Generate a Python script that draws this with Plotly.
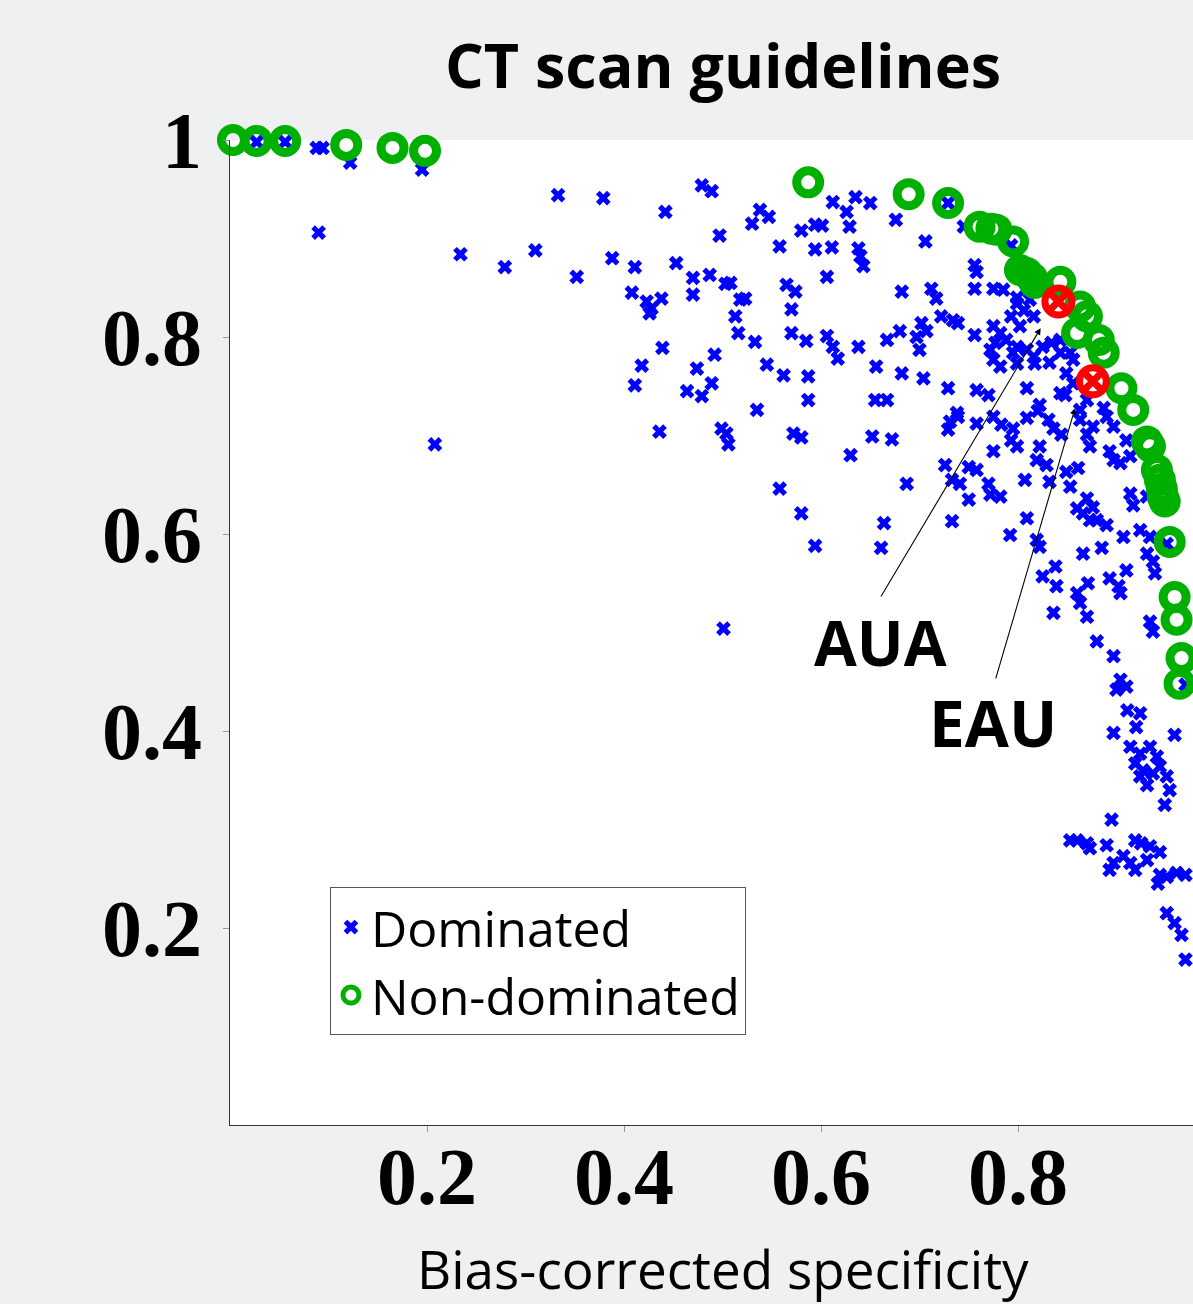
import plotly.graph_objects as go

# Dominated configurations: (bias-corrected specificity, bias-corrected sensitivity)
dom_spec = [
    0.027, 0.056, 0.088, 0.094, 0.122, 0.195, 0.090, 0.234, 0.279, 0.310, 0.352, 0.333, 0.379, 0.208,
    0.479, 0.489, 0.442, 0.497, 0.538, 0.547, 0.530, 0.558, 0.612, 0.635, 0.650, 0.626, 0.629, 0.580,
    0.594, 0.601, 0.594, 0.611, 0.638, 0.640, 0.643, 0.606, 0.388, 0.411, 0.453, 0.408, 0.423, 0.428,
    0.438, 0.426, 0.470, 0.470, 0.487, 0.503, 0.508, 0.518, 0.523, 0.513, 0.516, 0.533, 0.565, 0.574,
    0.570, 0.570, 0.585, 0.606, 0.612, 0.617, 0.638, 0.656, 0.439, 0.418, 0.411, 0.474, 0.492, 0.489,
    0.464, 0.479, 0.545, 0.562, 0.587, 0.587, 0.535, 0.655,
    0.436, 0.499, 0.504, 0.506, 0.572, 0.580, 0.630, 0.652, 0.672, 0.558, 0.580, 0.594, 0.664, 0.661, 0.501,
    0.676, 0.706, 0.729, 0.745, 0.793, 0.756, 0.758, 0.756, 0.775, 0.785, 0.682, 0.712, 0.717, 0.702,
    0.722, 0.734, 0.739, 0.707, 0.680, 0.667, 0.697, 0.700, 0.682, 0.704, 0.729, 0.758, 0.770, 0.756,
    0.775, 0.782, 0.793, 0.799, 0.806, 0.816, 0.788, 0.772, 0.775, 0.782, 0.795, 0.809, 0.816, 0.799,
    0.825, 0.834, 0.843, 0.849, 0.843, 0.809, 0.822, 0.738, 0.863, 0.887, 0.841, 0.876,
    0.799, 0.812, 0.802, 0.777, 0.799, 0.817, 0.832, 0.843, 0.853, 0.856, 0.856, 0.870, 0.758, 0.876,
    0.667, 0.731, 0.739, 0.729, 0.775, 0.783, 0.795, 0.793, 0.799, 0.775, 0.809, 0.820, 0.831, 0.836,
    0.844, 0.822, 0.848, 0.863, 0.870, 0.873, 0.890, 0.897, 0.893, 0.897, 0.910, 0.726, 0.687, 0.733,
    0.750, 0.758, 0.741, 0.750, 0.770, 0.772, 0.782, 0.733, 0.807, 0.819, 0.829, 0.832, 0.849, 0.861,
    0.853, 0.870, 0.860, 0.866, 0.873, 0.876, 0.890, 0.914, 0.917, 0.931, 0.809, 0.792, 0.819, 0.822,
    0.866, 0.885, 0.907, 0.924, 0.934, 0.931, 0.937, 0.939, 0.951, 0.825, 0.838, 0.839, 0.860, 0.871,
    0.863, 0.870, 0.893, 0.902, 0.910, 0.904, 0.836, 0.880, 0.897, 0.934, 0.937, 0.904, 0.914, 0.880,
    0.904, 0.910, 0.900, 0.911, 0.924, 0.920, 0.897, 0.959, 0.914, 0.924, 0.934, 0.941, 0.919, 0.927,
    0.924, 0.937, 0.944, 0.951, 0.931, 0.954, 0.949, 0.983, 0.895, 0.860, 0.870, 0.853, 0.873, 0.890,
    0.919, 0.925, 0.934, 0.944, 0.897, 0.907, 0.914, 0.893, 0.919, 0.931, 0.944, 0.951, 0.961, 0.970,
    0.942, 0.951, 0.959, 0.966, 0.970, 0.970,
]
dom_sens = [
    0.998, 0.998, 0.992, 0.992, 0.977, 0.970, 0.906, 0.884, 0.871, 0.888, 0.861, 0.944, 0.941, 0.691,
    0.954, 0.948, 0.927, 0.903, 0.929, 0.922, 0.915, 0.892, 0.937, 0.942, 0.936, 0.927, 0.912, 0.908,
    0.914, 0.913, 0.889, 0.891, 0.890, 0.882, 0.872, 0.861, 0.880, 0.871, 0.875, 0.845, 0.836, 0.829,
    0.839, 0.824, 0.860, 0.843, 0.863, 0.854, 0.855, 0.838, 0.839, 0.821, 0.804, 0.795, 0.853, 0.846,
    0.828, 0.804, 0.796, 0.801, 0.790, 0.778, 0.790, 0.770, 0.789, 0.771, 0.751, 0.768, 0.782, 0.753,
    0.745, 0.740, 0.772, 0.761, 0.760, 0.736, 0.726, 0.736,
    0.704, 0.707, 0.702, 0.691, 0.702, 0.698, 0.680, 0.699, 0.696, 0.646, 0.621, 0.588, 0.611, 0.586, 0.504,
    0.919, 0.897, 0.936, 0.912, 0.893, 0.873, 0.866, 0.849, 0.849, 0.848, 0.846, 0.849, 0.839, 0.814,
    0.821, 0.817, 0.814, 0.806, 0.806, 0.797, 0.800, 0.787, 0.763, 0.758, 0.748, 0.746, 0.741, 0.802,
    0.811, 0.804, 0.821, 0.834, 0.827, 0.821, 0.797, 0.787, 0.777, 0.770, 0.784, 0.787, 0.780, 0.773,
    0.790, 0.794, 0.784, 0.763, 0.743, 0.748, 0.731, 0.723, 0.726, 0.728, 0.836, 0.755,
    0.840, 0.838, 0.811, 0.794, 0.790, 0.773, 0.774, 0.797, 0.784, 0.777, 0.753, 0.736, 0.712, 0.709,
    0.736, 0.714, 0.719, 0.706, 0.719, 0.711, 0.707, 0.695, 0.689, 0.684, 0.718, 0.725, 0.716, 0.707,
    0.701, 0.689, 0.741, 0.716, 0.701, 0.689, 0.719, 0.709, 0.684, 0.675, 0.695, 0.670, 0.651, 0.655,
    0.668, 0.665, 0.651, 0.635, 0.651, 0.640, 0.638, 0.613, 0.655, 0.675, 0.670, 0.653, 0.663, 0.667,
    0.648, 0.636, 0.626, 0.621, 0.614, 0.627, 0.609, 0.641, 0.629, 0.638, 0.616, 0.599, 0.594, 0.587,
    0.580, 0.586, 0.597, 0.604, 0.597, 0.580, 0.572, 0.560, 0.590, 0.557, 0.567, 0.547, 0.540, 0.550,
    0.530, 0.516, 0.555, 0.547, 0.563, 0.540, 0.520, 0.491, 0.476, 0.511, 0.501, 0.672, 0.679, 0.614,
    0.452, 0.445, 0.442, 0.421, 0.418, 0.404, 0.398, 0.396, 0.384, 0.377, 0.384, 0.374, 0.367, 0.360,
    0.354, 0.357, 0.364, 0.354, 0.345, 0.340, 0.325, 0.324, 0.310, 0.289, 0.286, 0.289, 0.281, 0.284,
    0.289, 0.286, 0.283, 0.277, 0.266, 0.273, 0.266, 0.259, 0.259, 0.269, 0.254, 0.252, 0.256, 0.254,
    0.245, 0.215, 0.205, 0.193, 0.168, 0.447,
]

# Non-dominated configurations (Pareto front)
nd_spec = [
    0.003, 0.027, 0.056, 0.118, 0.165, 0.198, 0.587, 0.689, 0.729, 0.761, 0.773, 0.778, 0.795, 0.802,
    0.809, 0.814, 0.817, 0.843, 0.863, 0.870, 0.860, 0.882, 0.887, 0.905, 0.917, 0.931, 0.934, 0.941,
    0.944, 0.946, 0.947, 0.949, 0.954, 0.959, 0.961, 0.966, 0.964, 0.985, 0.985,
]
nd_sens = [
    1.000, 0.999, 0.999, 0.995, 0.992, 0.989, 0.957, 0.945, 0.936, 0.912, 0.910, 0.909, 0.897, 0.868,
    0.865, 0.860, 0.855, 0.856, 0.831, 0.821, 0.804, 0.797, 0.784, 0.748, 0.726, 0.694, 0.689, 0.665,
    0.655, 0.646, 0.638, 0.633, 0.592, 0.536, 0.513, 0.474, 0.448, 0.398, 0.363,
]

# Existing guidelines
guide_names = ["AUA", "EAU"]
guide_spec = [0.841, 0.876]
guide_sens = [0.836, 0.755]
label_size = [62, 64]
# label positions and arrow tails (data units)
label_spec = [0.660, 0.775]
label_sens = [0.490, 0.409]
tail_spec = [0.660, 0.777]
tail_sens = [0.535, 0.452]

y_ticks = [0.2, 0.4, 0.6, 0.8, 1.0]
y_ticktext = ["0.2", "0.4", "0.6", "0.8", "1"]
x_ticks = [0.2, 0.4, 0.6, 0.8, 1.0]
x_ticktext = ["0.2", "0.4", "0.6", "0.8", "1"]

BG = "#eff0f2"
SANS = "Open Sans"
SERIF = "Liberation Serif"

fig = go.Figure()
fig.add_trace(go.Scatter(
    x=dom_spec, y=dom_sens, mode="markers", name="Dominated",
    marker=dict(symbol="x", size=13, color="#0000ff", line=dict(width=0)),
    cliponaxis=False,
))
fig.add_trace(go.Scatter(
    x=nd_spec, y=nd_sens, mode="markers", name="Non-dominated",
    marker=dict(symbol="circle-open", size=23, color="#00b000", line=dict(width=9, color="#00b000")),
    cliponaxis=False,
))
fig.add_trace(go.Scatter(
    x=guide_spec, y=guide_sens, mode="markers", name="Guidelines", showlegend=False,
    marker=dict(symbol="circle-x-open", size=27, color="#ff0000", line=dict(width=7, color="#ff0000")),
    cliponaxis=False,
))

annotations = []
for name, hx, hy, tx, ty, lx, ly, fs in zip(guide_names, guide_spec, guide_sens, tail_spec, tail_sens,
                                            label_spec, label_sens, label_size):
    annotations.append(dict(
        x=hx - 0.018, y=hy - 0.027, xref="x", yref="y", ax=tx, ay=ty, axref="x", ayref="y",
        text="", showarrow=True, arrowhead=2, arrowsize=1.2, arrowwidth=1.1, arrowcolor="#000000",
    ))
    annotations.append(dict(
        x=lx, y=ly, xref="x", yref="y", text=name, showarrow=False,
        font=dict(family=SANS, size=fs, color="#000000", weight="bold"),
        xanchor="center", yanchor="middle",
    ))

annotations.append(dict(
    x=0.5, y=1.077, xref="x", yref="paper", text="CT scan guidelines", showarrow=False,
    font=dict(family=SANS, size=61, color="#000000", weight="bold"),
    xanchor="center", yanchor="middle",
))
annotations.append(dict(
    x=0.5, y=-0.146, xref="x", yref="paper", text="Bias-corrected specificity", showarrow=False,
    font=dict(family=SANS, size=53, color="#000000"),
    xanchor="center", yanchor="middle",
))

fig.update_layout(
    width=1193, height=1304,
    margin=dict(l=230, r=0, t=140, b=179, pad=0),
    paper_bgcolor=BG, plot_bgcolor="#ffffff",
    showlegend=True,
    legend=dict(
        x=0.1038, y=0.2416, xanchor="left", yanchor="top",
        bgcolor="#ffffff", bordercolor="#555555", borderwidth=1,
        font=dict(family=SANS, size=50, color="#000000"),
        itemsizing="trace", tracegroupgap=0,
    ),
    annotations=annotations,
)
fig.update_xaxes(
    range=[0, 963 / 985], showgrid=False, zeroline=False,
    showline=True, linecolor="#333333", linewidth=1,
    ticks="outside", ticklen=6, tickcolor="#999999", tickwidth=1,
    tickvals=x_ticks, ticktext=x_ticktext, ticklabelstandoff=-24,
    tickfont=dict(family=SERIF, size=80, color="#000000", weight="bold"),
)
fig.update_yaxes(
    range=[0, 1], showgrid=False, zeroline=False,
    showline=True, linecolor="#333333", linewidth=1,
    ticks="outside", ticklen=6, tickcolor="#999999", tickwidth=1,
    tickvals=y_ticks, ticktext=y_ticktext, ticklabelstandoff=5,
    tickfont=dict(family=SERIF, size=80, color="#000000", weight="bold"),
)

fig.write_html("out.html", config={"displayModeBar": False},
               post_script="document.body.style.margin='0';")
